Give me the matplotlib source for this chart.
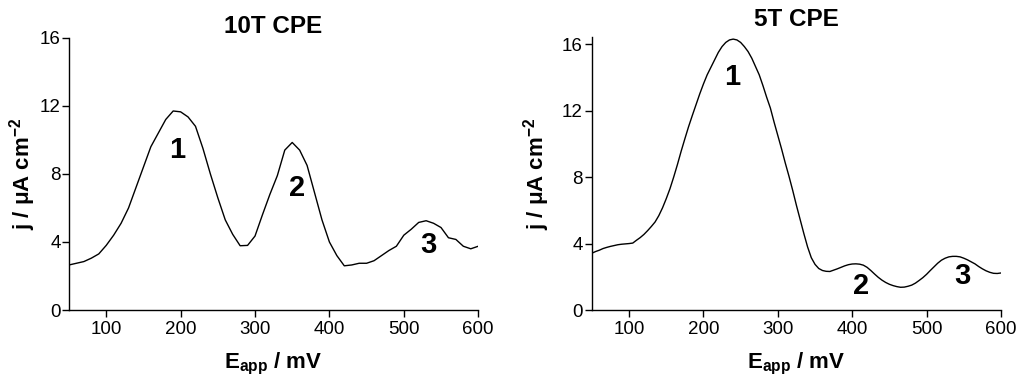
import matplotlib
matplotlib.use("Agg")
import matplotlib.pyplot as plt

plt.rcParams['font.family'] = ['Liberation Sans', 'DejaVu Sans']
plt.rcParams['mathtext.fontset'] = 'custom'
plt.rcParams['mathtext.rm'] = 'Liberation Sans'
plt.rcParams['mathtext.bf'] = 'Liberation Sans:bold'
plt.rcParams['mathtext.default'] = 'bf'

# 10T CPE: potential (mV, 10 mV steps) and current density (uA cm-2)
e_10t = list(range(50, 601, 10))
j_10t = [2.65, 2.75, 2.85, 3.05, 3.3, 3.8, 4.4, 5.1, 6.0, 7.2,
         8.4, 9.6, 10.4, 11.2, 11.7, 11.65, 11.35, 10.8, 9.5, 8.0,
         6.6, 5.3, 4.45, 3.78, 3.8, 4.35, 5.6, 6.8, 7.9, 9.4,
         9.85, 9.4, 8.5, 6.9, 5.3, 4.0, 3.2, 2.6, 2.65, 2.75,
         2.75, 2.9, 3.2, 3.5, 3.75, 4.4, 4.75, 5.15, 5.25, 5.1,
         4.85, 4.25, 4.15, 3.75, 3.6, 3.75]

# 5T CPE: potential (mV, 5 mV steps) and current density (uA cm-2)
e_5t = list(range(50, 601, 5))
j_5t = [3.42, 3.52, 3.6, 3.7, 3.77, 3.83, 3.88, 3.93, 3.96, 3.98,
        4.0, 4.03, 4.2, 4.36, 4.55, 4.78, 5.03, 5.3, 5.68, 6.15,
        6.7, 7.3, 8.0, 8.75, 9.55, 10.3, 11.03, 11.7, 12.35, 13.0,
        13.6, 14.15, 14.6, 15.05, 15.5, 15.85, 16.1, 16.25, 16.3, 16.25,
        16.1, 15.85, 15.55, 15.15, 14.65, 14.15, 13.5, 12.8, 12.15, 11.3,
        10.5, 9.7, 8.85, 8.05, 7.2, 6.3, 5.45, 4.6, 3.8, 3.15,
        2.75, 2.5, 2.38, 2.33, 2.32, 2.4, 2.48, 2.57, 2.66, 2.73,
        2.77, 2.78, 2.76, 2.7, 2.57, 2.38, 2.17, 1.97, 1.8, 1.66,
        1.55, 1.47, 1.41, 1.37, 1.38, 1.43, 1.5, 1.62, 1.78, 1.95,
        2.15, 2.38, 2.6, 2.82, 3.0, 3.12, 3.2, 3.23, 3.23, 3.2,
        3.12, 3.02, 2.9, 2.78, 2.62, 2.48, 2.36, 2.27, 2.21, 2.2,
        2.23]

titles = ["10T CPE", "5T CPE"]
peak_labels = ["1", "2", "3"]
# where the peak numbers sit (mV, j)
peaks_10t = [(195, 9.4), (357, 7.2), (533, 3.8)]
peaks_5t = [(239, 14.0), (412, 1.45), (548, 2.05)]

fig = plt.figure(figsize=(10.24, 3.9), dpi=100)
ax1 = fig.add_axes([0.0674, 0.205, 0.3996, 0.698])
ax2 = fig.add_axes([0.578, 0.205, 0.3995, 0.699])

panels = [
    (ax1, e_10t, j_10t, peaks_10t, 16.0, 1.0, 1.5, 1.5),
    (ax2, e_5t, j_5t, peaks_5t, 16.4, 1.5, 7.0, 8.5),
]
for i, (ax, xx, jj, pk, ytop, ypad, ylpad, tpad) in enumerate(panels):
    ax.plot(xx, jj, color='black', lw=1.0)
    ax.set_xlim(50, 600)
    ax.set_ylim(0, ytop)
    ax.set_xticks([100, 200, 300, 400, 500, 600])
    ax.set_yticks([0, 4, 8, 12, 16])
    ax.spines['top'].set_visible(False)
    ax.spines['right'].set_visible(False)
    ax.spines['left'].set_linewidth(1.0)
    ax.spines['bottom'].set_linewidth(1.0)
    ax.tick_params(direction='out', length=5, width=1.0, labelsize=13.5)
    ax.tick_params(axis='x', pad=3)
    ax.tick_params(axis='y', pad=ypad)
    ax.set_xlabel('E$_{app}$ / mV', fontsize=16, fontweight='bold', labelpad=9)
    ax.set_ylabel('j / μA cm$^{-2}$', fontsize=16, fontweight='bold', labelpad=ylpad)
    ax.set_title(titles[i], fontsize=17.5, fontweight='bold', pad=tpad)
    for lab, (px, py) in zip(peak_labels, pk):
        ax.text(px, py, lab, fontsize=21, fontweight='bold', ha='center', va='center')

fig.savefig('out.png', dpi=100)
